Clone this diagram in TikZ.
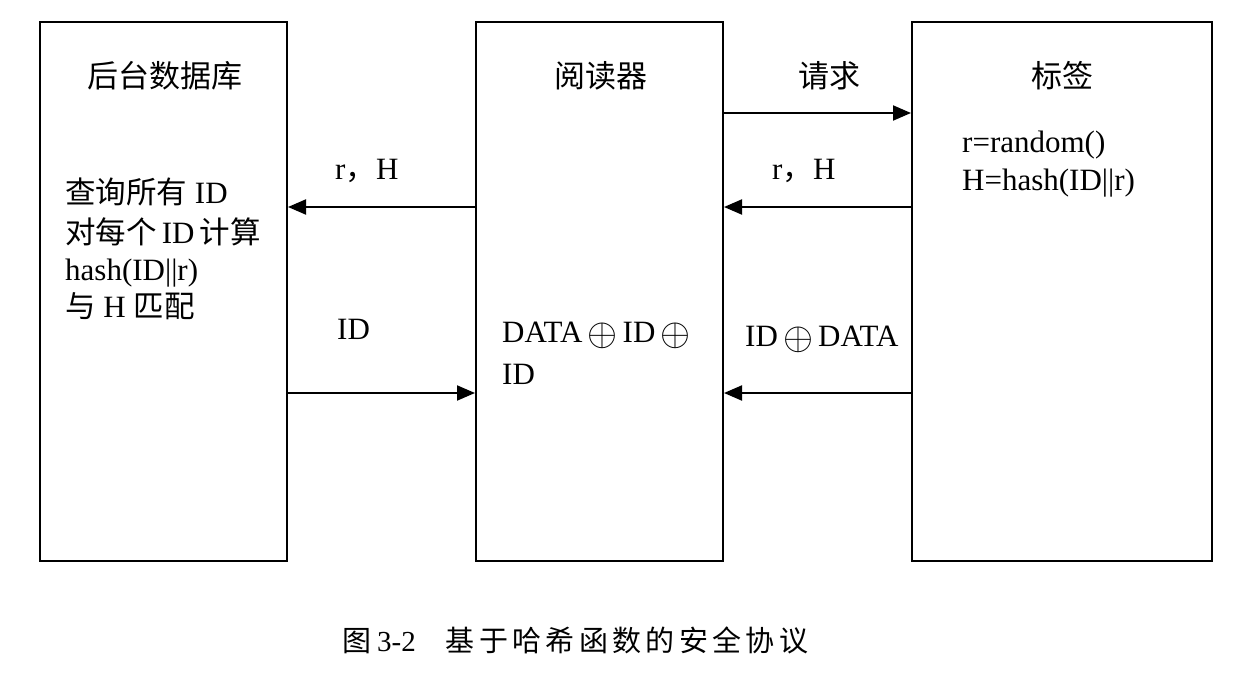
\documentclass[tikz,border=0pt]{standalone}
\usepackage{fontspec}
\setmainfont{Liberation Serif}
\newfontfamily\cjk{Noto Sans CJK SC}
\newfontfamily\cjkcap[LetterSpace=15]{Noto Sans CJK SC}
\usetikzlibrary{arrows.meta}
\newcommand\zhtxt[1]{{\cjk\fontsize{30.5}{38}\selectfont #1}}
\newcommand\bigxor{\,\raisebox{-0.12em}{\scalebox{1.55}{$\oplus$}}\,}
\tikzset{
  box/.style={draw, line width=2pt, inner sep=0pt},
  arr/.style={line width=2pt, -{Triangle[length=18pt,width=15pt]}},
  zh/.style={font=\cjk\fontsize{31}{38}\selectfont, inner sep=0pt},
  la/.style={font=\fontsize{31}{38}\selectfont, inner sep=0pt},
}
\begin{document}
\begin{tikzpicture}[x=1pt,y=-1pt]
\useasboundingbox (0,0) rectangle (1256,688);
% boxes
\node[box, minimum width=247pt, minimum height=539pt] (db) at (163.5,291.5) {};
\node[box, minimum width=247pt, minimum height=539pt] (reader) at (599.5,291.5) {};
\node[box, minimum width=300pt, minimum height=539pt] (tag) at (1062,291.5) {};
% levels
\coordinate (yreq) at (0,113);
\coordinate (yrh) at (0,207);
\coordinate (yid) at (0,393);
% arrows
\draw[arr] (reader.east |- yreq) -- (tag.west |- yreq);
\draw[arr] (tag.west |- yrh) -- (reader.east |- yrh);
\draw[arr] (reader.west |- yrh) -- (db.east |- yrh);
\draw[arr] (db.east |- yid) -- (reader.west |- yid);
\draw[arr] (tag.west |- yid) -- (reader.east |- yid);
% titles
\node[zh, anchor=base] (dbtitle) at (165,87) {后台数据库};
\node[zh, anchor=base] (rdtitle) at (601,87) {阅读器};
\node[zh, anchor=base] (reqlbl) at (829,87) {请求};
\node[zh, anchor=base] (tagtitle) at (1062,87) {标签};
% database text
\node[la, anchor=base west] (db1) at (65,203) {\zhtxt{查询所有} ID};
\node[la, anchor=base west] (db2) at (65,243) {\zhtxt{对每个}\,ID\,\zhtxt{计算}};
\node[la, anchor=base west] (db3) at (65,280) {hash(ID||r)};
\node[la, anchor=base west] (db4) at (65,317) {\zhtxt{与} H \zhtxt{匹配}};
% arrow labels
\node[la, anchor=base west] (rh1) at (335,179) {r\zhtxt{，}H};
\node[la, anchor=base west] (rh2) at (772,179) {r\zhtxt{，}H};
\node[la, anchor=base west] (idl) at (337,339) {ID};
\node[la, anchor=base west] (idd) at (745,346) {ID\bigxor DATA};
% reader text
\node[la, anchor=base west] (rd1) at (502,342) {DATA\bigxor ID\bigxor};
\node[la, anchor=base west] (rd2) at (502,384) {ID};
% tag text
\node[la, anchor=base west] (tg1) at (962,152) {r=random()};
\node[la, anchor=base west] (tg2) at (962,190) {H=hash(ID||r)};
% caption
\node[anchor=base west, inner sep=0pt] (cap) at (342,651)
  {{\cjkcap\fontsize{29}{32}\selectfont 图}\hspace{6pt}{\fontsize{29}{32}\selectfont 3-2}\hspace{30pt}{\cjkcap\fontsize{29}{32}\selectfont 基于哈希函数的安全协议}};
\end{tikzpicture}
\end{document}
